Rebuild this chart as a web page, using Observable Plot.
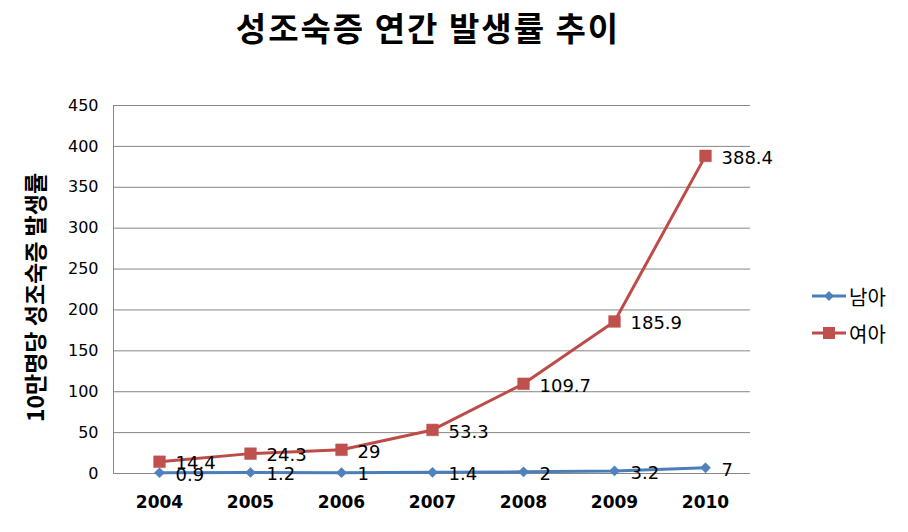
<!DOCTYPE html>
<html><head><meta charset="utf-8">
<script src="https://cdn.jsdelivr.net/npm/d3@7"></script>
<script src="https://cdn.jsdelivr.net/npm/@observablehq/plot@0.6"></script>
<style>
body{margin:0;background:#fff}
#wrap{position:relative;width:908px;height:532px;overflow:hidden}
#title{position:absolute;left:0;top:3px;width:856px;text-align:center;font-family:"Noto Sans CJK KR";font-weight:bold;font-size:33px;letter-spacing:2px;color:#000}
.leg{position:absolute;left:812px;height:24px;display:flex;align-items:center;font-family:"Noto Sans CJK KR";font-size:20px;color:#000}
.leg svg{margin-right:3px}
#chart{position:absolute;left:0;top:0}
</style></head>
<body>
<div id="wrap">
<div id="chart"></div>
<div id="title"></div>
<div id="legend"></div>
</div>
<script>
const title = "성조숙증 연간 발생률 추이";
const yLabel = "10만명당 성조숙증 발생률";
const years = ["2004","2005","2006","2007","2008","2009","2010"];
const seriesNames = ["남아","여아"];
const boys = [0.9,1.2,1,1.4,2,3.2,7];
const girls = [14.4,24.3,29,53.3,109.7,185.9,388.4];
const yTicks = [0,50,100,150,200,250,300,350,400,450];
const colors = ["#4A7EBB","#BE4B48"];

const rows = [];
years.forEach((yr,i)=>{
  rows.push({year:yr, series:seriesNames[0], value:boys[i]});
  rows.push({year:yr, series:seriesNames[1], value:girls[i]});
});
const boyRows = rows.filter(d=>d.series===seriesNames[0]);
const girlRows = rows.filter(d=>d.series===seriesNames[1]);

document.getElementById("title").textContent = title;

const gridColor = "#868686";
const chart = Plot.plot({
  width: 908,
  height: 532,
  marginTop: 105,
  marginBottom: 59,
  marginLeft: 113,
  marginRight: 158,
  style: {fontFamily: "DejaVu Sans", background: "transparent"},
  x: {type: "point", domain: years, padding: 0.5, align: 0.5, label: null},
  y: {domain: [0,450], label: null},
  marks: [
    Plot.ruleY(yTicks, {stroke: gridColor, strokeWidth: 1}),
    Plot.frame({anchor: "left", stroke: gridColor, strokeWidth: 1}),
    Plot.axisY({ticks: yTicks, tickSize: 0, tickPadding: 15, fontSize: 16, label: null, tickFormat: d=>String(d), fill: "#000"}),
    Plot.axisX({tickSize: 0, tickPadding: 22, fontSize: 17, fontWeight: "bold", label: null, fill: "#000"}),
    Plot.text([yLabel], {frameAnchor: "left", textAnchor: "middle", rotate: -90, dx: -77, dy: 8, fontSize: 23, fontWeight: "bold", fontFamily: "Noto Sans CJK KR", fill: "#000"}),
    Plot.line(boyRows, {x: "year", y: "value", stroke: colors[0], strokeWidth: 3}),
    Plot.dot(boyRows, {x: "year", y: "value", symbol: "diamond2", r: 4.6, fill: "#4F81BD", stroke: "#4F81BD", strokeWidth: 0.5}),
    Plot.line(girlRows, {x: "year", y: "value", stroke: colors[1], strokeWidth: 3}),
    Plot.dot(girlRows, {x: "year", y: "value", symbol: "square", r: 6.6, fill: "#C0504D", stroke: "#C0504D", strokeWidth: 0.5}),
    Plot.text(rows, {x: "year", y: "value", text: d=>String(d.value), textAnchor: "start", dx: 16, dy: 2, fontSize: 18, fill: "#000"})
  ]
});
document.getElementById("chart").appendChild(chart);

const legend = document.getElementById("legend");
const legTops = [284, 321];
seriesNames.forEach((name,i)=>{
  const div = document.createElement("div");
  div.className = "leg";
  div.style.top = legTops[i] + "px";
  const marker = i===0
    ? `<path d="M17,1 L22,6 L17,11 L12,6 Z" fill="#4F81BD"/>`
    : `<rect x="11" y="0" width="12" height="12" fill="#C0504D"/>`;
  div.innerHTML = `<svg width="34" height="12"><line x1="0" y1="6" x2="34" y2="6" stroke="${colors[i]}" stroke-width="3"/>${marker}</svg><span>${name}</span>`;
  legend.appendChild(div);
});
</script>
</body></html>
